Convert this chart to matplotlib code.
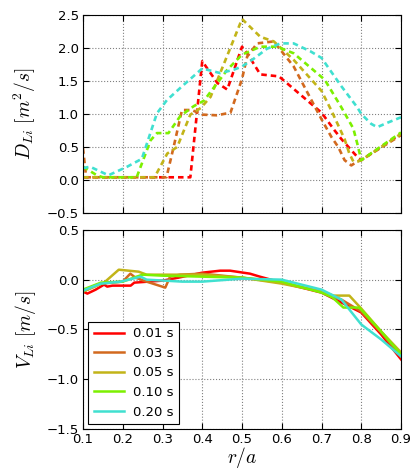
import matplotlib
matplotlib.use('Agg')
import matplotlib.pyplot as plt

plt.rcParams['mathtext.fontset'] = 'cm'
plt.rcParams['font.size'] = 9.5
plt.rcParams['xtick.direction'] = 'in'
plt.rcParams['ytick.direction'] = 'in'
plt.rcParams['xtick.top'] = True
plt.rcParams['ytick.right'] = True

labels = ['0.01 s', '0.03 s', '0.05 s', '0.10 s', '0.20 s']
colors = ['#ff0000', '#d2691e', '#c2b418', '#7cf000', '#40e0d0']

# D_Li profiles (dashed, top panel)
d_r = [
    [0.1, 0.37, 0.4, 0.438, 0.463, 0.5, 0.513, 0.546, 0.593, 0.7, 0.733, 0.75, 0.775, 0.79, 0.8, 0.9],
    [0.1, 0.108, 0.31, 0.328, 0.349, 0.374, 0.4, 0.437, 0.471, 0.5, 0.513, 0.538, 0.58, 0.63, 0.7, 0.725, 0.742, 0.758, 0.775, 0.79, 0.8, 0.9],
    [0.1, 0.28, 0.312, 0.337, 0.37, 0.396, 0.421, 0.5, 0.546, 0.58, 0.63, 0.7, 0.725, 0.758, 0.77, 0.78, 0.79, 0.8, 0.9],
    [0.1, 0.135, 0.15, 0.235, 0.27, 0.286, 0.315, 0.345, 0.379, 0.404, 0.463, 0.5, 0.546, 0.588, 0.63, 0.708, 0.75, 0.78, 0.79, 0.8, 0.9],
    [0.1, 0.118, 0.164, 0.211, 0.248, 0.286, 0.311, 0.353, 0.4, 0.445, 0.479, 0.5, 0.53, 0.563, 0.597, 0.63, 0.672, 0.7, 0.75, 0.79, 0.8, 0.825, 0.84, 0.867, 0.9],
]
d_val = [
    [0.04, 0.04, 1.8, 1.47, 1.37, 2.02, 1.92, 1.6, 1.57, 1.02, 0.75, 0.62, 0.45, 0.35, 0.3, 0.7],
    [0.48, 0.04, 0.04, 0.5, 1.06, 1.06, 0.99, 0.98, 1.02, 1.53, 1.87, 2.07, 2.1, 1.72, 0.92, 0.65, 0.5, 0.3, 0.22, 0.28, 0.3, 0.68],
    [0.04, 0.04, 0.4, 0.5, 0.99, 1.09, 1.26, 2.44, 2.17, 2.1, 1.82, 1.35, 1.05, 0.62, 0.4, 0.28, 0.28, 0.3, 0.7],
    [0.2, 0.07, 0.04, 0.04, 0.6, 0.71, 0.71, 0.97, 1.12, 1.2, 1.67, 1.9, 2.02, 2.02, 1.92, 1.52, 1.1, 0.78, 0.55, 0.3, 0.72],
    [0.18, 0.2, 0.07, 0.2, 0.32, 1.01, 1.21, 1.44, 1.69, 1.62, 1.67, 1.72, 1.84, 1.99, 2.07, 2.07, 1.95, 1.85, 1.42, 1.1, 1.0, 0.85, 0.8, 0.87, 0.95],
]

# V_Li profiles (solid, bottom panel)
v_r = [
    [0.1, 0.111, 0.132, 0.153, 0.161, 0.174, 0.22, 0.229, 0.3, 0.34, 0.4, 0.445, 0.47, 0.52, 0.545, 0.6, 0.7, 0.75, 0.8, 0.85, 0.9],
    [0.1, 0.144, 0.2, 0.219, 0.232, 0.26, 0.307, 0.319, 0.344, 0.4, 0.5, 0.6, 0.7, 0.75, 0.8, 0.85, 0.9],
    [0.1, 0.153, 0.19, 0.24, 0.26, 0.4, 0.5, 0.6, 0.7, 0.73, 0.77, 0.8, 0.85, 0.9],
    [0.1, 0.145, 0.2, 0.235, 0.25, 0.3, 0.4, 0.5, 0.6, 0.7, 0.728, 0.755, 0.795, 0.85, 0.9],
    [0.1, 0.145, 0.195, 0.245, 0.26, 0.35, 0.4, 0.5, 0.6, 0.7, 0.75, 0.8, 0.85, 0.9],
]
v_val = [
    [-0.12, -0.14, -0.1, -0.05, -0.07, -0.06, -0.06, -0.03, -0.01, 0.02, 0.07, 0.09, 0.09, 0.06, 0.03, -0.03, -0.13, -0.23, -0.33, -0.55, -0.8],
    [-0.12, -0.04, -0.02, 0.06, 0.02, -0.02, -0.08, 0.03, 0.05, 0.06, 0.02, -0.03, -0.12, -0.2, -0.32, -0.53, -0.77],
    [-0.12, -0.03, 0.1, 0.08, 0.05, 0.05, 0.02, -0.04, -0.12, -0.16, -0.16, -0.29, -0.52, -0.73],
    [-0.1, -0.03, -0.02, 0.03, 0.05, 0.04, 0.03, 0.02, -0.02, -0.13, -0.18, -0.28, -0.28, -0.52, -0.75],
    [-0.11, -0.04, -0.02, 0.03, -0.0, -0.02, -0.02, 0.01, 0.0, -0.1, -0.2, -0.45, -0.6, -0.77],
]

fig = plt.figure(figsize=(4.16, 4.70), dpi=100)
ax1 = fig.add_axes([0.1995, 0.547, 0.7645, 0.421])
ax2 = fig.add_axes([0.1995, 0.087, 0.7645, 0.424])

for r, d, c in zip(d_r, d_val, colors):
    ax1.plot(r, d, color=c, lw=1.9, linestyle=(0, (2.1, 1.5)))
for r, v, c, lab in zip(v_r, v_val, colors, labels):
    ax2.plot(r, v, color=c, lw=1.8, label=lab)

for ax in (ax1, ax2):
    ax.set_xlim(0.1, 0.9)
    ax.set_xticks([0.1, 0.2, 0.3, 0.4, 0.5, 0.6, 0.7, 0.8, 0.9])
    ax.grid(True, color='0.5', linestyle=':', lw=0.8)
    ax.tick_params(length=4, pad=3)

ax1.set_ylim(-0.5, 2.5)
ax1.set_yticks([-0.5, 0.0, 0.5, 1.0, 1.5, 2.0, 2.5])
ax1.set_xticklabels([])
ax1.set_ylabel(r'$D_{Li}\ [m^2/s]$', fontsize=14, labelpad=6)

ax2.set_ylim(-1.5, 0.5)
ax2.set_yticks([-1.5, -1.0, -0.5, 0.0, 0.5])
ax2.set_ylabel(r'$V_{Li}\ [m/s]$', fontsize=14, labelpad=6)
ax2.set_xlabel(r'$r/a$', fontsize=14, labelpad=-1)

leg = ax2.legend(loc='lower left', fontsize=9.5, fancybox=False, framealpha=1,
                 edgecolor='black', handlelength=2.3, handletextpad=0.7,
                 borderaxespad=0.4)
leg.get_frame().set_linewidth(0.8)

fig.savefig('out.png', dpi=100)
